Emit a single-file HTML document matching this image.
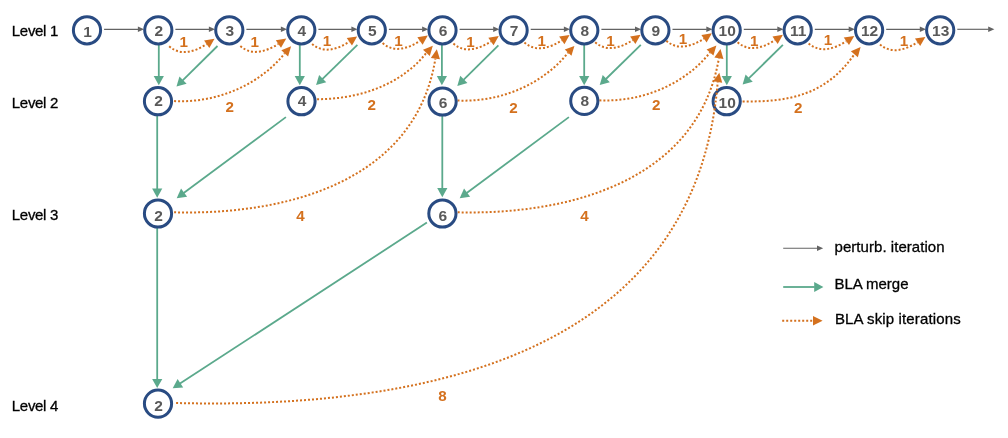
<!DOCTYPE html>
<html lang="en"><head><meta charset="utf-8"><title>BLA levels diagram</title>
<style>
html,body{margin:0;padding:0;background:#fff;}
body{width:1008px;height:438px;overflow:hidden;}
svg{display:block;will-change:transform;font-family:"Liberation Sans",Arial,Helvetica,sans-serif;}
.nl{font-size:15.5px;font-weight:bold;fill:#595959;}
.ol{font-size:15.2px;font-weight:bold;fill:#D4711E;}
.lv{font-size:15px;fill:#000;stroke:#000;stroke-width:0.3px;letter-spacing:-0.3px;}
.lg{font-size:15px;fill:#000;stroke:#000;stroke-width:0.3px;letter-spacing:0.05px;}
</style></head><body>
<svg width="1008" height="438" viewBox="0 0 1008 438">
<polygon points="144.10,29.30 137.90,32.10 137.90,26.50" fill="#636363"/>
<line x1="104.10" y1="29.30" x2="138.40" y2="29.30" stroke="#636363" stroke-width="1.15"/>
<polygon points="215.10,29.30 208.90,32.10 208.90,26.50" fill="#636363"/>
<line x1="175.40" y1="29.30" x2="209.40" y2="29.30" stroke="#636363" stroke-width="1.15"/>
<polygon points="287.10,29.30 280.90,32.10 280.90,26.50" fill="#636363"/>
<line x1="246.40" y1="29.30" x2="281.40" y2="29.30" stroke="#636363" stroke-width="1.15"/>
<polygon points="357.60,29.30 351.40,32.10 351.40,26.50" fill="#636363"/>
<line x1="318.40" y1="29.30" x2="351.90" y2="29.30" stroke="#636363" stroke-width="1.15"/>
<polygon points="428.30,29.30 422.10,32.10 422.10,26.50" fill="#636363"/>
<line x1="388.90" y1="29.30" x2="422.60" y2="29.30" stroke="#636363" stroke-width="1.15"/>
<polygon points="499.40,29.30 493.20,32.10 493.20,26.50" fill="#636363"/>
<line x1="459.60" y1="29.30" x2="493.70" y2="29.30" stroke="#636363" stroke-width="1.15"/>
<polygon points="570.10,29.30 563.90,32.10 563.90,26.50" fill="#636363"/>
<line x1="530.70" y1="29.30" x2="564.40" y2="29.30" stroke="#636363" stroke-width="1.15"/>
<polygon points="641.20,29.30 635.00,32.10 635.00,26.50" fill="#636363"/>
<line x1="601.40" y1="29.30" x2="635.50" y2="29.30" stroke="#636363" stroke-width="1.15"/>
<polygon points="712.50,29.30 706.30,32.10 706.30,26.50" fill="#636363"/>
<line x1="672.50" y1="29.30" x2="706.80" y2="29.30" stroke="#636363" stroke-width="1.15"/>
<polygon points="783.50,29.30 777.30,32.10 777.30,26.50" fill="#636363"/>
<line x1="743.80" y1="29.30" x2="777.80" y2="29.30" stroke="#636363" stroke-width="1.15"/>
<polygon points="854.90,29.30 848.70,32.10 848.70,26.50" fill="#636363"/>
<line x1="814.80" y1="29.30" x2="849.20" y2="29.30" stroke="#636363" stroke-width="1.15"/>
<polygon points="926.00,29.30 919.80,32.10 919.80,26.50" fill="#636363"/>
<line x1="886.20" y1="29.30" x2="920.30" y2="29.30" stroke="#636363" stroke-width="1.15"/>
<polygon points="994.40,29.30 988.20,32.10 988.20,26.50" fill="#636363"/>
<line x1="957.30" y1="29.30" x2="988.70" y2="29.30" stroke="#636363" stroke-width="1.15"/>
<polygon points="158.80,85.30 153.70,76.10 163.90,76.10" fill="#5BA98C"/>
<line x1="158.80" y1="44.90" x2="158.80" y2="76.60" stroke="#5BA98C" stroke-width="1.8"/>
<polygon points="299.80,85.30 294.70,76.10 304.90,76.10" fill="#5BA98C"/>
<line x1="299.80" y1="44.90" x2="299.80" y2="76.60" stroke="#5BA98C" stroke-width="1.8"/>
<polygon points="441.90,85.30 436.80,76.10 447.00,76.10" fill="#5BA98C"/>
<line x1="441.90" y1="44.90" x2="441.90" y2="76.60" stroke="#5BA98C" stroke-width="1.8"/>
<polygon points="584.20,85.30 579.10,76.10 589.30,76.10" fill="#5BA98C"/>
<line x1="584.20" y1="44.90" x2="584.20" y2="76.60" stroke="#5BA98C" stroke-width="1.8"/>
<polygon points="726.80,85.30 721.70,76.10 731.90,76.10" fill="#5BA98C"/>
<line x1="726.80" y1="44.90" x2="726.80" y2="76.60" stroke="#5BA98C" stroke-width="1.8"/>
<polygon points="176.50,86.50 179.46,76.41 186.63,83.66" fill="#5BA98C"/>
<line x1="217.50" y1="46.00" x2="182.69" y2="80.39" stroke="#5BA98C" stroke-width="1.8"/>
<polygon points="316.10,85.10 319.12,75.02 326.25,82.32" fill="#5BA98C"/>
<line x1="357.40" y1="44.80" x2="322.33" y2="79.02" stroke="#5BA98C" stroke-width="1.8"/>
<polygon points="457.30,85.90 460.27,75.81 467.43,83.08" fill="#5BA98C"/>
<line x1="498.40" y1="45.40" x2="463.50" y2="79.79" stroke="#5BA98C" stroke-width="1.8"/>
<polygon points="599.70,85.10 602.70,75.02 609.84,82.30" fill="#5BA98C"/>
<line x1="640.80" y1="44.80" x2="605.91" y2="79.01" stroke="#5BA98C" stroke-width="1.8"/>
<polygon points="742.60,84.50 745.57,74.41 752.73,81.68" fill="#5BA98C"/>
<line x1="782.90" y1="44.80" x2="748.80" y2="78.39" stroke="#5BA98C" stroke-width="1.8"/>
<polygon points="157.20,197.80 152.10,188.60 162.30,188.60" fill="#5BA98C"/>
<line x1="157.20" y1="115.50" x2="157.20" y2="189.10" stroke="#5BA98C" stroke-width="1.8"/>
<polygon points="442.30,197.30 437.20,188.10 447.40,188.10" fill="#5BA98C"/>
<line x1="442.30" y1="115.50" x2="442.30" y2="188.60" stroke="#5BA98C" stroke-width="1.8"/>
<polygon points="176.70,198.20 181.05,188.62 187.13,196.81" fill="#5BA98C"/>
<line x1="285.90" y1="117.10" x2="183.68" y2="193.01" stroke="#5BA98C" stroke-width="1.8"/>
<polygon points="459.70,198.20 464.05,188.62 470.13,196.81" fill="#5BA98C"/>
<line x1="568.90" y1="117.10" x2="466.68" y2="193.01" stroke="#5BA98C" stroke-width="1.8"/>
<polygon points="157.20,388.10 152.10,378.90 162.30,378.90" fill="#5BA98C"/>
<line x1="157.20" y1="228.00" x2="157.20" y2="379.40" stroke="#5BA98C" stroke-width="1.8"/>
<polygon points="172.70,388.30 177.62,379.00 183.19,387.55" fill="#5BA98C"/>
<line x1="426.90" y1="222.60" x2="179.99" y2="383.55" stroke="#5BA98C" stroke-width="1.8"/>
<path d="M169.20 46.30 C180.91 56.64 195.03 51.32 206.70 44.20" fill="none" stroke="#D4711E" stroke-width="2.0" stroke-dasharray="2 2"/>
<polygon points="214.50,38.80 209.32,47.98 204.08,40.42" fill="#D4711E"/>
<path d="M240.35 46.10 C252.24 56.44 266.55 51.12 278.38 44.00" fill="none" stroke="#D4711E" stroke-width="2.0" stroke-dasharray="2 2"/>
<polygon points="286.29,38.60 280.98,47.80 275.79,40.20" fill="#D4711E"/>
<path d="M312.12 43.90 C323.75 54.24 337.79 48.92 349.36 41.80" fill="none" stroke="#D4711E" stroke-width="2.0" stroke-dasharray="2 2"/>
<polygon points="357.10,36.40 351.99,45.57 346.73,38.03" fill="#D4711E"/>
<path d="M382.65 43.10 C394.31 53.44 408.39 48.12 420.00 41.00" fill="none" stroke="#D4711E" stroke-width="2.0" stroke-dasharray="2 2"/>
<polygon points="427.76,35.60 422.62,44.78 417.37,37.22" fill="#D4711E"/>
<path d="M453.42 43.60 C465.17 53.94 479.25 48.63 490.97 41.50" fill="none" stroke="#D4711E" stroke-width="2.0" stroke-dasharray="2 2"/>
<polygon points="498.78,36.10 493.58,45.28 488.35,37.72" fill="#D4711E"/>
<path d="M524.45 42.50 C536.11 52.84 550.19 47.52 561.80 40.40" fill="none" stroke="#D4711E" stroke-width="2.0" stroke-dasharray="2 2"/>
<polygon points="569.56,35.00 564.42,44.18 559.17,36.62" fill="#D4711E"/>
<path d="M595.22 42.30 C606.97 52.64 621.05 47.33 632.77 40.20" fill="none" stroke="#D4711E" stroke-width="2.0" stroke-dasharray="2 2"/>
<polygon points="640.58,34.80 635.38,43.98 630.15,36.42" fill="#D4711E"/>
<path d="M666.35 40.80 C678.14 51.14 692.26 45.83 704.00 38.70" fill="none" stroke="#D4711E" stroke-width="2.0" stroke-dasharray="2 2"/>
<polygon points="711.84,33.30 706.62,42.49 701.39,34.91" fill="#D4711E"/>
<path d="M737.60 42.30 C749.31 52.64 763.43 47.32 775.10 40.20" fill="none" stroke="#D4711E" stroke-width="2.0" stroke-dasharray="2 2"/>
<polygon points="782.90,34.80 777.72,43.98 772.48,36.42" fill="#D4711E"/>
<path d="M808.66 43.40 C820.47 53.74 834.61 48.43 846.37 41.30" fill="none" stroke="#D4711E" stroke-width="2.0" stroke-dasharray="2 2"/>
<polygon points="854.22,35.90 848.98,45.09 843.76,37.51" fill="#D4711E"/>
<path d="M880.02 44.40 C891.77 54.74 905.85 49.43 917.57 42.30" fill="none" stroke="#D4711E" stroke-width="2.0" stroke-dasharray="2 2"/>
<polygon points="925.38,36.90 920.18,46.08 914.95,38.52" fill="#D4711E"/>
<path d="M174.10 101.10 C215.34 103.16 258.73 85.93 284.70 53.30" fill="none" stroke="#D4711E" stroke-width="2.0" stroke-dasharray="2 2"/>
<polygon points="291.10,46.30 288.09,56.40 281.31,50.20" fill="#D4711E"/>
<path d="M317.10 99.20 C357.52 99.30 400.63 85.57 426.40 52.82" fill="none" stroke="#D4711E" stroke-width="2.0" stroke-dasharray="2 2"/>
<polygon points="432.80,45.80 429.80,55.92 423.00,49.72" fill="#D4711E"/>
<path d="M457.50 100.50 C498.74 102.56 542.13 85.33 568.10 52.70" fill="none" stroke="#D4711E" stroke-width="2.0" stroke-dasharray="2 2"/>
<polygon points="574.40,46.00 571.45,55.85 564.75,49.55" fill="#D4711E"/>
<path d="M599.40 100.30 C640.64 102.36 684.03 85.13 710.00 52.50" fill="none" stroke="#D4711E" stroke-width="2.0" stroke-dasharray="2 2"/>
<polygon points="716.40,45.40 713.42,55.58 706.58,49.42" fill="#D4711E"/>
<path d="M742.60 101.40 C789.54 102.23 826.13 94.74 854.37 54.28" fill="none" stroke="#D4711E" stroke-width="2.0" stroke-dasharray="2 2"/>
<polygon points="860.60,47.10 857.85,57.29 850.90,51.26" fill="#D4711E"/>
<path d="M174.10 212.30 C282.59 215.21 415.18 183.72 435.40 58.60" fill="none" stroke="#D4711E" stroke-width="2.0" stroke-dasharray="2 2"/>
<polygon points="436.80,49.20 439.95,59.28 430.85,57.92" fill="#D4711E"/>
<path d="M457.70 212.30 C566.85 215.06 697.36 182.27 718.90 58.30" fill="none" stroke="#D4711E" stroke-width="2.0" stroke-dasharray="2 2"/>
<polygon points="720.50,48.90 723.43,59.07 714.37,57.53" fill="#D4711E"/>
<circle cx="87.00" cy="30.30" r="13.6" fill="#fff" stroke="#294B82" stroke-width="3.0"/>
<text x="87.50" y="36.60" text-anchor="middle" class="nl">1</text>
<circle cx="158.30" cy="30.30" r="13.6" fill="#fff" stroke="#294B82" stroke-width="3.0"/>
<text x="158.80" y="35.90" text-anchor="middle" class="nl">2</text>
<circle cx="229.30" cy="30.30" r="13.6" fill="#fff" stroke="#294B82" stroke-width="3.0"/>
<text x="229.80" y="36.30" text-anchor="middle" class="nl">3</text>
<circle cx="301.30" cy="30.30" r="13.6" fill="#fff" stroke="#294B82" stroke-width="3.0"/>
<text x="301.80" y="35.90" text-anchor="middle" class="nl">4</text>
<circle cx="371.80" cy="30.30" r="13.6" fill="#fff" stroke="#294B82" stroke-width="3.0"/>
<text x="372.30" y="36.30" text-anchor="middle" class="nl">5</text>
<circle cx="442.50" cy="30.30" r="13.6" fill="#fff" stroke="#294B82" stroke-width="3.0"/>
<text x="443.00" y="35.90" text-anchor="middle" class="nl">6</text>
<circle cx="513.60" cy="30.30" r="13.6" fill="#fff" stroke="#294B82" stroke-width="3.0"/>
<text x="514.10" y="36.30" text-anchor="middle" class="nl">7</text>
<circle cx="584.30" cy="30.30" r="13.6" fill="#fff" stroke="#294B82" stroke-width="3.0"/>
<text x="584.80" y="35.90" text-anchor="middle" class="nl">8</text>
<circle cx="655.40" cy="30.30" r="13.6" fill="#fff" stroke="#294B82" stroke-width="3.0"/>
<text x="655.90" y="36.30" text-anchor="middle" class="nl">9</text>
<circle cx="726.70" cy="30.30" r="13.6" fill="#fff" stroke="#294B82" stroke-width="3.0"/>
<text x="727.20" y="35.90" text-anchor="middle" class="nl">10</text>
<circle cx="797.70" cy="30.30" r="13.6" fill="#fff" stroke="#294B82" stroke-width="3.0"/>
<text x="798.20" y="36.30" text-anchor="middle" class="nl">11</text>
<circle cx="869.10" cy="30.30" r="13.6" fill="#fff" stroke="#294B82" stroke-width="3.0"/>
<text x="869.60" y="35.90" text-anchor="middle" class="nl">12</text>
<circle cx="940.20" cy="30.30" r="13.6" fill="#fff" stroke="#294B82" stroke-width="3.0"/>
<text x="940.70" y="36.30" text-anchor="middle" class="nl">13</text>
<circle cx="158.00" cy="101.20" r="13.6" fill="#fff" stroke="#294B82" stroke-width="3.0"/>
<text x="158.50" y="106.40" text-anchor="middle" class="nl">2</text>
<circle cx="301.50" cy="101.20" r="13.6" fill="#fff" stroke="#294B82" stroke-width="3.0"/>
<text x="302.00" y="106.40" text-anchor="middle" class="nl">4</text>
<circle cx="442.60" cy="101.50" r="13.6" fill="#fff" stroke="#294B82" stroke-width="3.0"/>
<text x="443.10" y="107.70" text-anchor="middle" class="nl">6</text>
<circle cx="584.30" cy="100.90" r="13.6" fill="#fff" stroke="#294B82" stroke-width="3.0"/>
<text x="584.80" y="105.70" text-anchor="middle" class="nl">8</text>
<circle cx="726.70" cy="101.20" r="13.6" fill="#fff" stroke="#294B82" stroke-width="3.0"/>
<text x="727.20" y="107.60" text-anchor="middle" class="nl">10</text>
<circle cx="158.00" cy="213.50" r="13.6" fill="#fff" stroke="#294B82" stroke-width="3.0"/>
<text x="158.50" y="220.50" text-anchor="middle" class="nl">2</text>
<circle cx="442.40" cy="213.50" r="13.6" fill="#fff" stroke="#294B82" stroke-width="3.0"/>
<text x="442.90" y="220.50" text-anchor="middle" class="nl">6</text>
<circle cx="158.00" cy="403.60" r="13.6" fill="#fff" stroke="#294B82" stroke-width="3.0"/>
<text x="158.50" y="410.60" text-anchor="middle" class="nl">2</text>
<path d="M176.10 403.00 C409.09 408.87 694.99 363.10 717.70 82.00" fill="none" stroke="#D4711E" stroke-width="2.0" stroke-dasharray="2 2"/>
<polygon points="719.30,72.80 722.23,82.79 713.17,81.21" fill="#D4711E"/>
<text x="183.80" y="46.80" text-anchor="middle" class="ol">1</text>
<text x="254.80" y="46.70" text-anchor="middle" class="ol">1</text>
<text x="327.10" y="45.70" text-anchor="middle" class="ol">1</text>
<text x="398.60" y="45.70" text-anchor="middle" class="ol">1</text>
<text x="470.60" y="46.70" text-anchor="middle" class="ol">1</text>
<text x="541.70" y="45.70" text-anchor="middle" class="ol">1</text>
<text x="610.40" y="45.70" text-anchor="middle" class="ol">1</text>
<text x="683.10" y="43.80" text-anchor="middle" class="ol">1</text>
<text x="754.30" y="45.70" text-anchor="middle" class="ol">1</text>
<text x="827.90" y="45.40" text-anchor="middle" class="ol">1</text>
<text x="903.90" y="45.70" text-anchor="middle" class="ol">1</text>
<text x="229.70" y="112.30" text-anchor="middle" class="ol">2</text>
<text x="371.70" y="109.70" text-anchor="middle" class="ol">2</text>
<text x="513.60" y="112.70" text-anchor="middle" class="ol">2</text>
<text x="656.30" y="109.70" text-anchor="middle" class="ol">2</text>
<text x="798.20" y="112.70" text-anchor="middle" class="ol">2</text>
<text x="300.60" y="220.60" text-anchor="middle" class="ol">4</text>
<text x="584.60" y="220.60" text-anchor="middle" class="ol">4</text>
<text x="442.40" y="401.40" text-anchor="middle" class="ol">8</text>
<text x="11.80" y="36.00" class="lv">Level 1</text>
<text x="11.80" y="107.90" class="lv">Level 2</text>
<text x="11.80" y="219.80" class="lv">Level 3</text>
<text x="11.80" y="411.00" class="lv">Level 4</text>
<polygon points="823.20,248.20 817.00,251.00 817.00,245.40" fill="#636363"/>
<line x1="783.20" y1="248.20" x2="817.50" y2="248.20" stroke="#636363" stroke-width="1.15"/>
<text x="834.50" y="252.00" class="lg">perturb. iteration</text>
<polygon points="823.40,287.00 814.20,292.10 814.20,281.90" fill="#5BA98C"/>
<line x1="783.20" y1="287.00" x2="814.70" y2="287.00" stroke="#5BA98C" stroke-width="1.8"/>
<text x="834.50" y="289.00" style="letter-spacing:-0.03px" class="lg">BLA merge</text>
<line x1="782.2" y1="320.75" x2="814" y2="320.75" stroke="#D4711E" stroke-width="2.0" stroke-dasharray="2 2"/>
<polygon points="822.60,320.75 813.00,325.55 813.00,315.95" fill="#D4711E"/>
<text x="834.90" y="323.60" style="letter-spacing:0.13px" class="lg">BLA skip iterations</text>
</svg>
</body></html>
